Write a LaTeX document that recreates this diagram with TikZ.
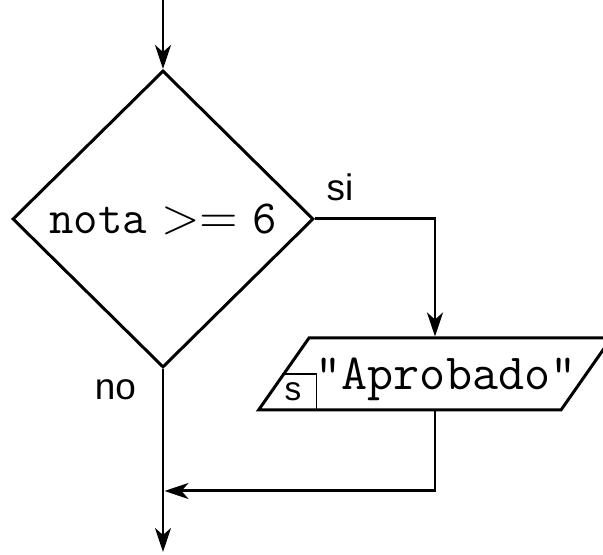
\documentclass[tikz,border=0pt]{standalone}
\usepackage{fontspec}
\newfontfamily\labelfont{Liberation Sans}
\usetikzlibrary{positioning,arrows.meta,shapes.geometric,calc}

\begin{document}
\begin{tikzpicture}[
    line width=0.85pt,
    decision/.style={diamond, draw=black, minimum width=3.01cm, minimum height=2.97cm, inner sep=0pt, font=\fontsize{13.5}{16}\selectfont},
    output/.style={trapezium, trapezium left angle=55, trapezium right angle=125, draw=black, inner xsep=1.26cm, inner ysep=0.36cm},
    code/.style={font=\ttfamily\fontsize{14.4}{17}\selectfont, anchor=base},
    branch/.style={font=\labelfont\fontsize{10.5}{12}\selectfont, anchor=base},
    arrow/.style={-{Stealth[length=2.4mm, width=1.6mm, inset=0.7mm]}}
]
\useasboundingbox (0,0) rectangle (6.03,-5.55);

% Condition
\node[decision] (cond) at (1.63,-2.19) {$\mathtt{nota} >= \mathtt{6}$};
\node[branch] (si) at (3.40,-2.01) {si};
\node[branch] (no) at (1.155,-4.00) {no};

% Output
\node[output] (out) at (4.35,-3.74) {};
\node[code] (msg) at (4.46,-3.90) {"Aprobado"};
\draw[line width=0.4pt] ($(out.bottom left corner)!0.5!(out.top left corner)$) -| ($(out.bottom left corner)+(0.61,0)$);
\node[font=\labelfont\fontsize{9.5}{11}\selectfont, anchor=base] (scr) at (2.93,-4.01) {s};

\coordinate (start) at (1.63,0);
\coordinate (join) at (1.645,-4.91);
\coordinate (end) at (1.63,-5.52);

\draw[arrow] (start) -- (cond.north);
\draw[arrow] (cond.east) -| (out.north);
\draw[arrow] (out.south) |- (join);
\draw[arrow] (cond.south) -- (end);

\end{tikzpicture}
\end{document}
